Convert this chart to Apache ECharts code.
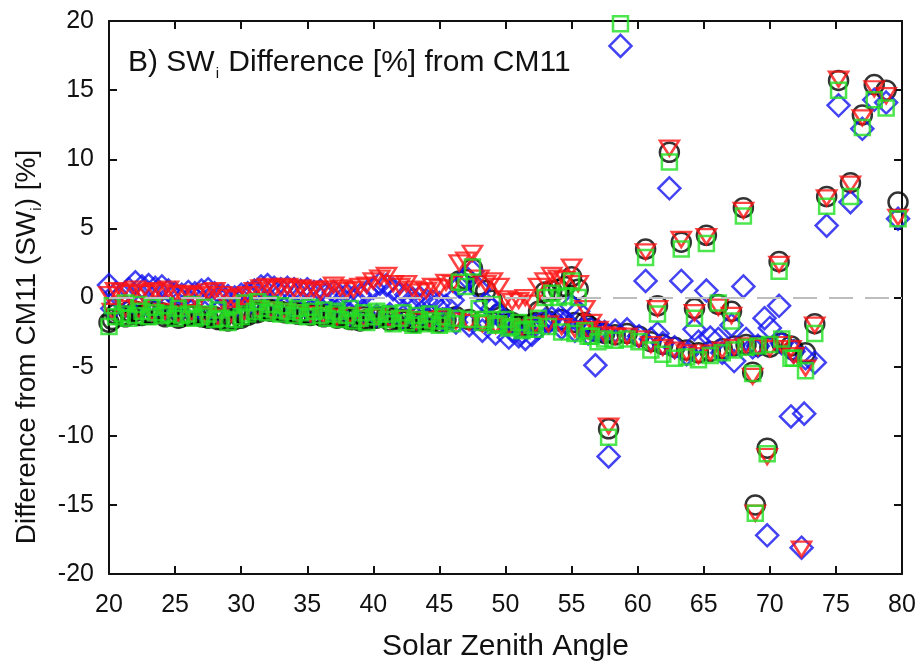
<!DOCTYPE html>
<html>
<head>
<meta charset="utf-8">
<script src="https://cdn.jsdelivr.net/npm/echarts@6/dist/echarts.min.js"></script>
<style>
html,body{margin:0;padding:0;background:#fff;}
#chart{width:920px;height:667px;}
</style>
</head>
<body>
<div id="chart"></div>
<script>
// ---- Data ----
// Main band, 0.5 deg grid
var szaA = [20,20.5,21,21.5,22,22.5,23,23.5,24,24.5,25,25.5,26,26.5,27,27.5,28,28.5,29,29.5,30,30.5,31,31.5,32,32.5,33,33.5,34,34.5,35,35.5,36,36.5,37,37.5,38,38.5,39,39.5,40,40.5,41,41.5,42,42.5,43,43.5,44,44.5,45,45.5,46,46.5,47,47.5,48,48.5,49,49.5,50,50.5,51,51.5,52,52.5,53,53.5,54,54.5,55,55.5,56,56.5,57];
var circA = [-1.8,-1.2,-1.3,-1.0,-1.0,-1.3,-1.2,-1.0,-1.1,-1.3,-1.2,-1.4,-1.3,-1.2,-1.4,-1.5,-1.4,-1.6,-1.7,-1.6,-1.5,-1.3,-1.1,-0.9,-0.8,-0.9,-1.0,-1.1,-1.0,-1.2,-1.1,-1.2,-1.3,-1.2,-1.3,-1.4,-1.5,-1.6,-1.7,-1.6,-1.5,-1.4,-1.3,-1.5,-1.6,-1.7,-1.8,-1.7,-1.6,-1.7,-1.8,-1.6,-1.5,1.2,1.3,2.1,0.9,0.5,-0.2,-1.2,-1.6,-1.8,-2.0,-2.1,-1.9,-1.0,0.4,0.5,0.6,0.8,1.5,0.6,-1.8,-2.2,-2.5];
var diamA = [0.9,0.3,0.2,0.6,1.1,0.8,0.9,0.7,0.8,0.5,0.3,0.2,0.4,0.3,0.5,0.6,0.3,0.2,0.1,0.0,0.2,0.3,0.5,0.8,0.9,0.7,0.6,0.7,0.6,0.5,0.6,0.4,0.5,0.3,0.4,0.1,0.2,0.0,0.2,0.4,0.7,1.0,0.9,0.6,0.3,0.2,-0.1,0.0,-0.2,-0.3,-0.4,-0.6,-0.2,0.8,1.5,1.9,0.6,-0.4,-0.8,-1.2,-1.8,-2.4,-2.8,-3.0,-2.7,-2.2,-1.6,-1.5,-1.6,-1.8,-0.6,-1.0,-2.2,-2.3,-2.4];
var triA = [0.2,0.5,0.4,0.3,0.6,0.4,0.3,0.5,0.4,0.6,0.3,0.2,0.3,0.1,0.2,0.4,0.5,0.2,0.0,-0.1,0.1,0.2,0.5,0.7,0.8,0.6,0.7,0.8,0.6,0.7,0.5,0.6,0.4,0.6,0.9,0.7,0.5,0.6,0.8,0.9,1.2,1.4,1.6,1.0,0.8,1.0,0.6,0.4,0.5,0.8,0.7,1.1,1.0,2.5,2.7,3.2,1.4,1.0,1.2,0.8,-0.1,-0.3,-0.2,0.0,-0.4,0.8,1.2,1.6,1.4,1.3,2.2,1.0,-0.8,-1.8,-2.3];
var sqA = [-2.1,-1.4,-1.2,-1.5,-1.3,-1.0,-1.4,-1.1,-1.3,-1.2,-1.5,-1.3,-1.2,-1.5,-1.4,-1.2,-1.6,-1.5,-1.8,-1.6,-1.4,-1.2,-1.0,-0.8,-1.1,-0.9,-1.2,-1.0,-1.3,-1.1,-1.4,-1.0,-1.3,-1.5,-1.2,-1.6,-1.3,-1.7,-1.5,-1.8,-1.4,-1.2,-1.6,-1.9,-1.5,-1.8,-2.0,-1.6,-1.9,-1.7,-2.0,-1.7,-1.9,1.1,0.8,2.2,-0.8,-1.6,-0.5,-1.9,-1.6,-2.1,-1.8,-2.3,-2.0,-1.5,0.0,0.3,0.0,0.1,1.2,0.0,-2.4,-2.8,-3.2];

// Second layer of the band, 1 deg grid
var szaB = [20.25,21.25,22.25,23.25,24.25,25.25,26.25,27.25,28.25,29.25,30.25,31.25,32.25,33.25,34.25,35.25,36.25,37.25,38.25,39.25,40.25,41.25,42.25,43.25,44.25,45.25,46.25,47.25,48.25,49.25,50.25,51.25,52.25,53.25,54.25,55.25,56.25];
var circB = [-1.6,-1.4,-1.3,-1.2,-1.4,-1.5,-1.3,-1.4,-1.6,-1.5,-1.3,-1.1,-1.0,-1.1,-1.2,-1.3,-1.4,-1.5,-1.6,-1.4,-1.5,-1.7,-1.6,-1.8,-1.7,-1.5,-1.4,-1.6,-1.7,-1.8,-1.9,-2.0,-1.8,-1.7,-1.6,-1.8,-2.0];
var diamB = [-0.8,-0.6,-0.7,-0.9,-0.8,-1.0,-0.9,-1.1,-1.0,-0.9,-0.7,-0.5,-0.6,-0.8,-0.9,-1.0,-1.1,-1.0,-1.2,-1.1,-1.3,-1.2,-1.4,-1.5,-1.3,-1.6,-1.8,-2.0,-2.4,-2.6,-2.9,-2.5,-2.0,-1.8,-2.2,-2.4,-2.6];
var triB = [-1.0,-0.8,-0.9,-1.1,-1.0,-1.2,-1.1,-1.3,-1.4,-1.2,-1.0,-0.8,-0.9,-1.0,-1.1,-1.2,-1.3,-1.4,-1.3,-1.5,-1.4,-1.6,-1.5,-1.7,-1.6,-1.5,-1.7,-1.8,-1.9,-2.0,-2.1,-2.2,-2.0,-1.9,-2.1,-2.3,-2.4];
var sqB = [-0.6,-0.4,-0.5,-0.7,-0.6,-0.8,-0.5,-0.7,-0.9,-0.6,-0.4,-0.3,-0.5,-0.6,-0.8,-0.7,-0.9,-1.0,-0.8,-1.1,-1.0,-1.2,-1.1,-1.3,-1.2,-1.4,-1.5,-1.6,-1.8,-2.0,-2.2,-2.4,-2.3,-2.1,-2.5,-2.6,-2.8];

// Band continuing at large zenith angles
var szaD = [57.5,58.3,59.2,60.1,61.0,61.9,62.8,63.7,64.6,65.5,66.4,67.3,68.2,69.1,70.0,70.9,71.8,72.7];
var circD = [-2.6,-2.7,-2.6,-2.8,-3.2,-3.4,-3.6,-3.8,-4.0,-3.9,-3.7,-3.5,-3.4,-3.5,-3.6,-3.3,-3.8,-4.0];
var diamD = [-2.5,-2.4,-2.3,-2.8,-3.0,-3.3,-3.6,-4.1,-3.2,-2.9,-4.0,-4.6,-3.0,-3.5,-2.2,-3.3,-3.9,-4.4];
var triD = [-2.7,-2.8,-2.8,-3.0,-3.4,-3.6,-3.8,-4.0,-4.2,-4.0,-3.8,-3.6,-3.5,-3.6,-3.7,-3.4,-4.2,-5.1];
var sqD = [-3.0,-3.1,-3.0,-3.2,-3.8,-4.1,-4.4,-4.3,-4.5,-4.2,-4.0,-3.8,-3.6,-3.5,-3.4,-3.0,-4.4,-5.3];

// Individual scattered points
var szaC = [56.8,57.8,58.7,60.6,61.5,62.4,63.3,64.3,65.2,66.1,67.1,68.0,68.7,68.9,69.6,69.8,70.7,71.6,72.4,72.6,73.4,74.3,75.2,76.1,77.0,77.9,78.8,79.7];
var circC = [null,-9.5,null,3.5,-0.6,10.5,4.0,-0.8,4.5,-0.5,-1.0,6.5,-5.4,-15.0,null,-10.9,2.6,-3.5,null,null,-1.9,7.3,15.7,8.3,13.2,15.4,15.0,6.9];
var diamC = [-4.9,-11.5,18.2,1.2,-2.6,7.9,1.2,-2.3,0.5,-3.0,-2.0,0.8,-3.6,null,-1.5,-17.2,-0.6,-8.6,-18.1,-8.4,-4.7,5.2,13.9,6.9,12.2,14.3,14.1,5.7];
var triC = [null,-9.3,null,3.3,-0.8,10.8,4.2,-1.1,4.4,-0.7,-1.3,6.3,-5.7,-15.6,null,-11.5,2.4,-3.7,-18.2,null,-2.0,7.2,15.8,8.2,13.0,15.1,14.6,5.8];
var sqC = [null,-10.1,19.8,2.9,-1.2,9.8,3.5,-1.5,3.9,-0.4,-1.7,5.9,-5.5,-15.6,null,-11.3,1.9,-4.4,null,null,-2.6,6.6,15.0,7.3,12.3,14.3,13.7,5.7];

var xTicks = [20,25,30,35,40,45,50,55,60,65,70,75,80];
var yTicks = [-20,-15,-10,-5,0,5,10,15,20];

// ---- Build ----
function pairs(xs, ys){
  var out = [];
  for (var i = 0; i < xs.length; i++) {
    if (ys[i] !== null && ys[i] !== undefined) out.push([xs[i], ys[i]]);
  }
  return out;
}
function seriesData(a, b, d, c){
  return pairs(szaA, a).concat(pairs(szaB, b), pairs(szaD, d), pairs(szaC, c));
}

var FONT = 'Liberation Sans, Arial, sans-serif';
var chart = echarts.init(document.getElementById('chart'), null, {renderer: 'canvas'});

function mk(name, sym, size, color, data, extra){
  var s = {
    name: name, type: 'scatter', symbol: sym, symbolSize: size,
    itemStyle: {color: 'rgba(0,0,0,0)', borderColor: color, borderWidth: 2.5},
    data: data, silent: true, animation: false, clip: false
  };
  for (var k in extra) s[k] = extra[k];
  return s;
}

var axisLineStyle = {onZero: false, lineStyle: {color: '#111', width: 2}};
var tickStyle = {show: true, inside: true, length: 8, lineStyle: {color: '#111', width: 2}};

var option = {
  backgroundColor: '#fff',
  animation: false,
  textStyle: {fontFamily: FONT},
  title: {
    text: '{m|B) SW}{s|i}{m| Difference [%] from CM11}',
    left: 123, top: 40,
    textStyle: {
      rich: {
        m: {fontFamily: FONT, fontWeight: 'normal', fontSize: 30, color: '#111', lineHeight: 36, verticalAlign: 'middle'},
        s: {fontFamily: FONT, fontWeight: 'normal', fontSize: 15, color: '#111', lineHeight: 36, verticalAlign: 'bottom', padding: [0, 1, 0, 1]}
      }
    }
  },
  graphic: [{
    type: 'text', x: 27, y: 347, rotation: Math.PI / 2, silent: true,
    style: {
      text: '{m|Difference from CM11 (SW}{s|i}{m|) [%]}',
      align: 'center', verticalAlign: 'middle',
      rich: {
        m: {fontFamily: FONT, fontSize: 28, fill: '#111', lineHeight: 34, verticalAlign: 'middle'},
        s: {fontFamily: FONT, fontSize: 15, fill: '#111', lineHeight: 34, verticalAlign: 'bottom'}
      }
    }
  }],
  grid: {left: 109, right: 18, top: 21, bottom: 91},
  xAxis: [{
    type: 'value', min: 20, max: 80, interval: 5, position: 'bottom',
    axisLine: axisLineStyle, axisTick: tickStyle, splitLine: {show: false},
    axisLabel: {fontFamily: FONT, fontSize: 25, color: '#111', margin: 19,
      formatter: function(v){ return xTicks.indexOf(v) >= 0 ? String(v) : ''; }},
    name: 'Solar Zenith Angle', nameLocation: 'middle', nameGap: 58,
    nameTextStyle: {fontFamily: FONT, fontSize: 30, color: '#111'}
  }, {
    type: 'value', min: 20, max: 80, interval: 5, position: 'top',
    axisLine: axisLineStyle, axisTick: tickStyle, axisLabel: {show: false}, splitLine: {show: false}
  }],
  yAxis: [{
    type: 'value', min: -20, max: 20, interval: 5, position: 'left',
    axisLine: axisLineStyle, axisTick: tickStyle, splitLine: {show: false},
    axisLabel: {fontFamily: FONT, fontSize: 25, color: '#111', margin: 15,
      formatter: function(v){ return yTicks.indexOf(v) >= 0 ? String(v) : ''; }}
  }, {
    type: 'value', min: -20, max: 20, interval: 5, position: 'right',
    axisLine: axisLineStyle, axisTick: tickStyle, axisLabel: {show: false}, splitLine: {show: false}
  }],
  series: [
    mk('circle', 'circle', 19, '#000000', seriesData(circA, circB, circD, circC), {}),
    mk('diamond', 'diamond', 22, '#1414f0', seriesData(diamA, diamB, diamD, diamC), {}),
    mk('triangle', 'triangle', [19, 15], '#ff1414', seriesData(triA, triB, triD, triC), {symbolRotate: 180}),
    mk('square', 'rect', 15, '#22e022', seriesData(sqA, sqB, sqD, sqC), {
      markLine: {
        silent: true, symbol: 'none', animation: false, z: 10,
        label: {show: false},
        lineStyle: {color: '#bdbdbd', width: 2, type: [24, 12]},
        data: [{yAxis: 0}]
      }
    })
  ]
};
chart.setOption(option);
</script>
</body>
</html>
